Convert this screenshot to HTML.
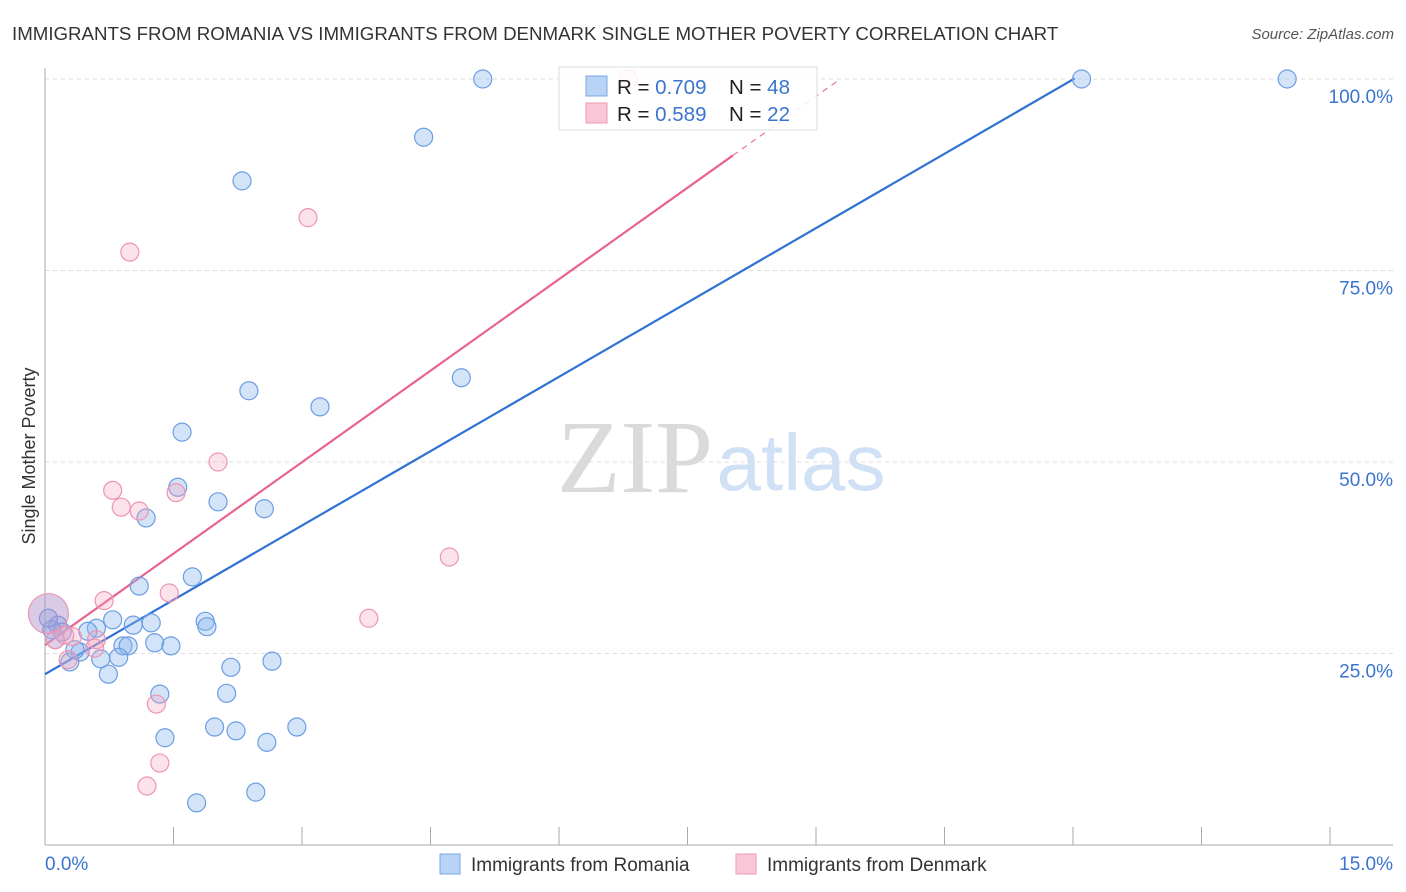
<!DOCTYPE html>
<html><head><meta charset="utf-8"><style>
body{margin:0;background:#fff;font-family:"Liberation Sans",sans-serif;}
svg{display:block}
</style></head><body>
<svg id="c" width="1406" height="892" xmlns="http://www.w3.org/2000/svg">
<text x="12" y="40" font-size="18.7" fill="#333">IMMIGRANTS FROM ROMANIA VS IMMIGRANTS FROM DENMARK SINGLE MOTHER POVERTY CORRELATION CHART</text>
<text x="1394" y="39" font-size="15" fill="#555" font-style="italic" text-anchor="end">Source: ZipAtlas.com</text>
<text x="35" y="456" font-size="18" fill="#333" text-anchor="middle" transform="rotate(-90 35 456)">Single Mother Poverty</text>
<g>
<text x="635" y="492" font-size="104" font-family="Liberation Serif,serif" fill="#dadada" text-anchor="middle">ZIP</text>
<text x="801" y="490" font-size="80" fill="#d0e0f5" text-anchor="middle">atlas</text>
</g>
<g id="grid"></g><g id="axes"></g><g id="lines"></g><g id="pts"></g>
<g>
<rect x="559" y="67" width="258" height="63" fill="rgba(255,255,255,0.85)" stroke="#ddd"/>
<rect x="586" y="76" width="21" height="20" fill="#b8d3f5" stroke="#7aa8e6"/>
<rect x="586" y="103" width="21" height="20" fill="#f8c6d6" stroke="#ee9ab5"/>
<text x="617" y="94" font-size="20.5" fill="#222">R = <tspan fill="#3a74d0">0.709</tspan><tspan x="729">N = </tspan><tspan fill="#3a74d0">48</tspan></text>
<text x="617" y="121" font-size="20.5" fill="#222">R = <tspan fill="#3a74d0">0.589</tspan><tspan x="729">N = </tspan><tspan fill="#3a74d0">22</tspan></text>
</g>
<g>
<rect x="440" y="854" width="20" height="20" fill="#b8d3f5" stroke="#7aa8e6"/>
<text x="471" y="871" font-size="19" fill="#333">Immigrants from Romania</text>
<rect x="736" y="854" width="20" height="20" fill="#f8c6d6" stroke="#ee9ab5"/>
<text x="767" y="871" font-size="19" fill="#333">Immigrants from Denmark</text>
</g>
</svg>
<script>
const blueX=[5.11,12.10,14.50,4.42,2.30,2.38,4.86,3.21,1.60,1.55,2.02,2.56,1.18,1.72,1.10,0.79,1.87,1.89,1.24,1.03,0.60,0.50,0.15,0.20,0.08,1.28,0.91,0.97,1.47,0.41,0.65,0.86,0.29,2.65,2.17,0.74,1.34,2.12,1.98,2.23,2.94,2.59,1.40,1.77,2.46,0.12,0.35,0.04];
const blueY=[100,100,100,92.4,86.7,59.3,61.0,57.2,53.9,46.7,44.8,43.9,42.7,35.0,33.8,29.4,29.2,28.5,29.0,28.7,28.3,27.9,28.7,27.8,28.1,26.4,26.0,26.0,26.0,25.2,24.3,24.5,23.9,24.0,23.2,22.3,19.7,19.8,15.4,14.9,15.4,13.4,14.0,5.5,6.9,26.8,25.5,29.6];
const pinkX=[0.99,3.07,6.81,2.02,0.79,0.89,1.10,1.53,4.72,1.45,0.69,3.78,0.60,0.32,0.58,0.04,0.23,0.27,1.30,1.34,1.19,0.12];
const pinkY=[77.4,81.9,100,50.0,46.3,44.1,43.6,46.0,37.6,32.9,31.9,29.6,26.8,27.2,25.7,30.2,27.4,24.2,18.4,10.7,7.7,26.8];
const pinkR=[9,9,9,9,9,9,9,9,9,9,9,9,9,9,9,20,9,9,9,9,9,9];
const yTicks=[25,50,75,100];
const blueFit=[22.3,6.47];
const pinkFit=[26.1,7.96];
const X=v=>45+v/15*1285, Y=v=>845-v*7.66;
const NS="http://www.w3.org/2000/svg";
function mk(p,t,a){const e=document.createElementNS(NS,t);for(const k in a)e.setAttribute(k,a[k]);document.getElementById(p).appendChild(e);return e;}
yTicks.forEach(t=>{
 const l=mk('grid','line',{x1:45,x2:1393,y1:Y(t),y2:Y(t),stroke:'#ddd','stroke-dasharray':'4,4'});
 
 
 const tx=mk('grid','text',{x:1393,y:Y(t)+24,'font-size':19,fill:'#3a74d0','text-anchor':'end'});
 tx.textContent=t.toFixed(1)+'%';
 
 
});
mk('axes','line',{x1:45,x2:45,y1:68,y2:845,stroke:'#aaa'});
mk('axes','line',{x1:45,x2:1393,y1:845,y2:845,stroke:'#aaa'});
for(let i=1;i<=10;i++){mk('axes','line',{x1:X(i*1.5),x2:X(i*1.5),y1:827,y2:845,stroke:'#aaa'});}
const x0=mk('axes','text',{x:45,y:870,'font-size':19,fill:'#3a74d0'});x0.textContent='0.0%';


const x1=mk('axes','text',{x:1393,y:870,'font-size':19,fill:'#3a74d0','text-anchor':'end'});x1.textContent='15.0%';


function fit(f,xe,xd,col,name){
 const s=mk('lines','line',{x1:X(0),y1:Y(f[0]),x2:X(xe),y2:Y(f[0]+f[1]*xe),stroke:col,'stroke-width':2.2});
 
 
 if(xd>xe){mk('lines','line',{x1:X(xe),y1:Y(f[0]+f[1]*xe),x2:X(xd),y2:Y(f[0]+f[1]*xd),stroke:col,'stroke-width':1,'stroke-dasharray':'6,5'});}
}
fit(blueFit,12.02,12.02,'#2f72d4','trend-romania');
fit(pinkFit,8.03,9.28,'#e8638f','trend-denmark');
blueX.forEach((v,i)=>{const c=mk('pts','circle',{cx:X(v),cy:Y(blueY[i]),r:9,fill:'rgba(140,185,240,0.38)',stroke:'#6d9de2','stroke-width':1.2});
 
 });
pinkX.forEach((v,i)=>{const c=mk('pts','circle',{cx:X(v),cy:Y(pinkY[i]),r:pinkR[i],fill:pinkR[i]>9?'rgba(170,140,200,0.45)':'rgba(245,160,190,0.3)',stroke:'#ec95b2','stroke-width':1.2});
 
 });
</script>
</body></html>
